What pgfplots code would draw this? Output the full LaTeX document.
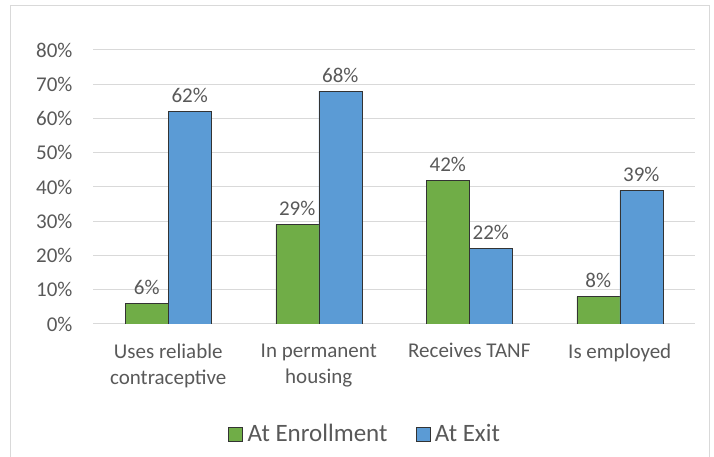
\documentclass[border=0pt]{standalone}
\usepackage{pgfplots}
\pgfplotsset{compat=1.18}
\usepackage{fontspec}
\setmainfont{Carlito}
\definecolor{txt}{HTML}{595959}
\definecolor{gridc}{HTML}{D9D9D9}
\definecolor{enr}{HTML}{70AD47}
\definecolor{ext}{HTML}{5B9BD5}
\begin{document}
\begin{tikzpicture}[x=1pt,y=1pt]
\useasboundingbox (0,0) rectangle (714,457);
\draw[gridc] (10.5,-5) rectangle (709.5,451.5);
\begin{axis}[
  at={(93pt,133pt)}, anchor=south west,
  scale only axis, width=602pt, height=274pt,
  xmin=0.5, xmax=4.5, ymin=0, ymax=80,
  ytick={0,10,...,80},
  yticklabel={\pgfmathprintnumber{\tick}\%},
  /pgf/number format/assume math mode=true,
  xtick=data,
  xticklabels={{Uses reliable\\contraceptive},{In permanent\\housing},{Receives TANF},{Is employed}},
  xticklabel style={align=center, font=\fontsize{21}{26}\selectfont, text=txt, yshift=-16pt},
  yticklabel style={font=\fontsize{21}{24}\selectfont, text=txt, xshift=-17pt},
  major tick length=0pt,
  xmajorgrids=false, ymajorgrids=true,
  grid style={draw=gridc, line width=1pt},
  axis line style={draw=none},
  ybar, bar width=43pt,
  nodes near coords={\pgfmathprintnumber{\pgfplotspointmeta}\%},
  nodes near coords style={font=\fontsize{21}{24}\selectfont, text=txt, yshift=5pt},
  legend style={at={(0.452,-0.401)}, anchor=center, draw=none, legend columns=2,
    font=\fontsize{25}{28}\selectfont, text=txt,
    /tikz/every odd column/.append style={column sep=3pt},
    /tikz/every even column/.append style={column sep=26pt}},
  legend image code/.code={\draw[#1, draw=black!80] (0pt,-7pt) rectangle (14pt,7pt);},
]
\addplot[fill=enr, draw=black!80, bar shift=-21.5pt] coordinates {(1,6) (2,29) (3,42) (4,8)};
\addplot[fill=ext, draw=black!80, bar shift=21.5pt] coordinates {(1,62) (2,68) (3,22) (4,39)};
\legend{At Enrollment, At Exit}
\end{axis}
\end{tikzpicture}
\end{document}
